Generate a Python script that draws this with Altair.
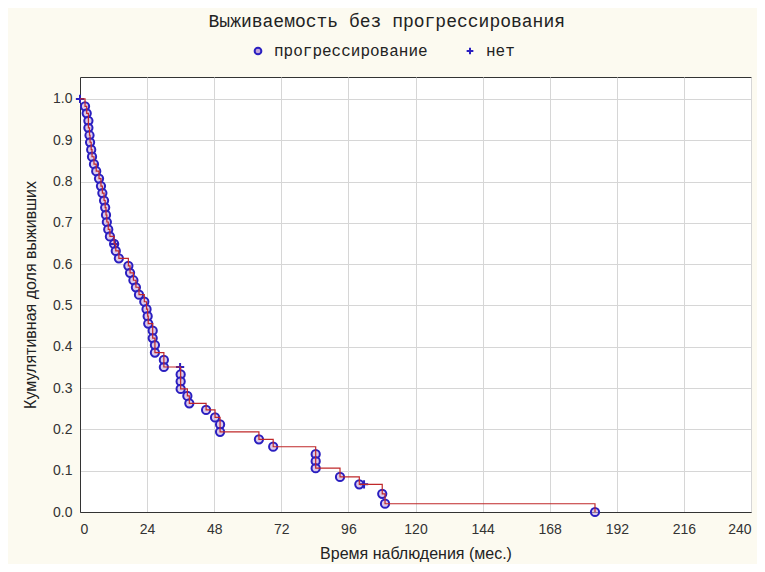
import altair as alt
import pandas as pd

# Event (progression) times, months, and Kaplan-Meier survival after each event
event_times = [1.8, 2.4, 3.0, 3.0, 3.4, 3.6, 4.0, 4.3, 5.0, 5.8,
               6.8, 7.5, 8.0, 8.6, 9.0, 9.3, 9.6, 10.1, 10.7, 12.2,
               12.8, 13.9, 17.3, 17.9, 19.1, 20.0, 21.1, 23.0, 23.8, 24.2,
               24.4, 26.0, 26.0, 26.8, 26.8, 30.0, 30.0, 36.0, 36.0, 36.0,
               38.4, 39.1, 45.1, 48.3, 50.1, 50.1, 64.0, 69.1, 84.3, 84.3,
               84.3, 93.0, 99.9, 108.1, 109.1, 184.2]
event_surv = [0.982, 0.965, 0.947, 0.930, 0.912, 0.895, 0.877, 0.860, 0.842, 0.825,
              0.807, 0.789, 0.772, 0.754, 0.737, 0.719, 0.702, 0.684, 0.667, 0.649,
              0.632, 0.614, 0.596, 0.579, 0.561, 0.544, 0.526, 0.509, 0.491, 0.474,
              0.456, 0.439, 0.421, 0.404, 0.386, 0.368, 0.351, 0.333, 0.316, 0.298,
              0.281, 0.263, 0.247, 0.229, 0.212, 0.194, 0.176, 0.158, 0.140, 0.123,
              0.106, 0.085, 0.067, 0.044, 0.020, 0.0]

# Censored observations
censor_times = [0.0, 12.5, 35.8, 101.6]
censor_surv = [1.0, 0.649, 0.351, 0.067]

x_ticks = [0, 24, 48, 72, 96, 120, 144, 168, 192, 216, 240]
y_ticks = [0.0, 0.1, 0.2, 0.3, 0.4, 0.5, 0.6, 0.7, 0.8, 0.9, 1.0]

lbl_event = "прогрессирование"
lbl_cens = "нет"

line_df = pd.DataFrame({
    "t": [0.0] + event_times,
    "s": [1.0] + event_surv,
    "i": list(range(len(event_times) + 1)),
})
pts_df = pd.concat([
    pd.DataFrame({"t": event_times, "s": event_surv, "g": lbl_event}),
    pd.DataFrame({"t": censor_times, "s": censor_surv, "g": lbl_cens}),
], ignore_index=True)

xscale = alt.Scale(domain=[0, 240], nice=False, zero=False)
yscale = alt.Scale(domain=[0, 1.053], nice=False, zero=False)

xaxis = alt.Axis(values=x_ticks, title="Время наблюдения (мес.)", grid=True,
                 ticks=False, labelPadding=10, titlePadding=9, format="d")
yaxis = alt.Axis(values=y_ticks, title="Кумулятивная доля выживших", grid=True,
                 ticks=False, labelPadding=8, titlePadding=14, format=".1f")

leg = alt.Legend(title=None, orient="none", legendX=170, legendY=-34,
                 direction="horizontal")

points = alt.Chart(pts_df).mark_point(filled=False, strokeWidth=2, size=68, opacity=1,
                                      fill="#c4a6dc", fillOpacity=0.6).encode(
    x=alt.X("t:Q", scale=xscale, axis=xaxis),
    y=alt.Y("s:Q", scale=yscale, axis=yaxis),
    color=alt.Color("g:N", scale=alt.Scale(domain=[lbl_event, lbl_cens],
                                           range=["#2a1fc0", "#2a1fc0"]),
                    legend=leg),
    shape=alt.Shape("g:N", scale=alt.Scale(domain=[lbl_event, lbl_cens],
                                           range=["circle", "M-1,0L1,0M0,-1L0,1"]),
                    legend=leg),
)

line = alt.Chart(line_df).mark_line(interpolate="step-after", color="#c0282a",
                                    strokeWidth=1.2).encode(
    x=alt.X("t:Q", scale=xscale),
    y=alt.Y("s:Q", scale=yscale),
    order="i:Q",
)

chart = alt.layer(points, line).properties(
    width=671, height=435,
    background="#fcfaf0",
    autosize=alt.AutoSizeParams(type="none"),
    padding={"left": 72, "top": 69, "right": 6, "bottom": 52},
    title=alt.TitleParams("Выживаемость без прогрессирования", font="Liberation Mono",
                          fontSize=18, fontWeight="normal", color="#222222",
                          anchor="middle", frame="bounds", offset=12),
).configure_view(
    fill="white", stroke="#333333", strokeWidth=1
).configure_axis(
    gridColor="#d6d6d6", gridWidth=1, domainColor="#333333",
    labelFont="Liberation Sans", labelFontSize=14, labelColor="#333333",
    titleFont="Liberation Sans", titleFontSize=16, titleFontWeight="normal",
    titleColor="#222222",
).configure_legend(
    labelFont="Liberation Mono", labelFontSize=16, labelColor="#222222",
    symbolStrokeWidth=2, symbolSize=45, columnPadding=34, labelOffset=8,
    symbolFillColor="white",
)

chart.save("out.html", embed_options={"renderer": "svg", "actions": False})
